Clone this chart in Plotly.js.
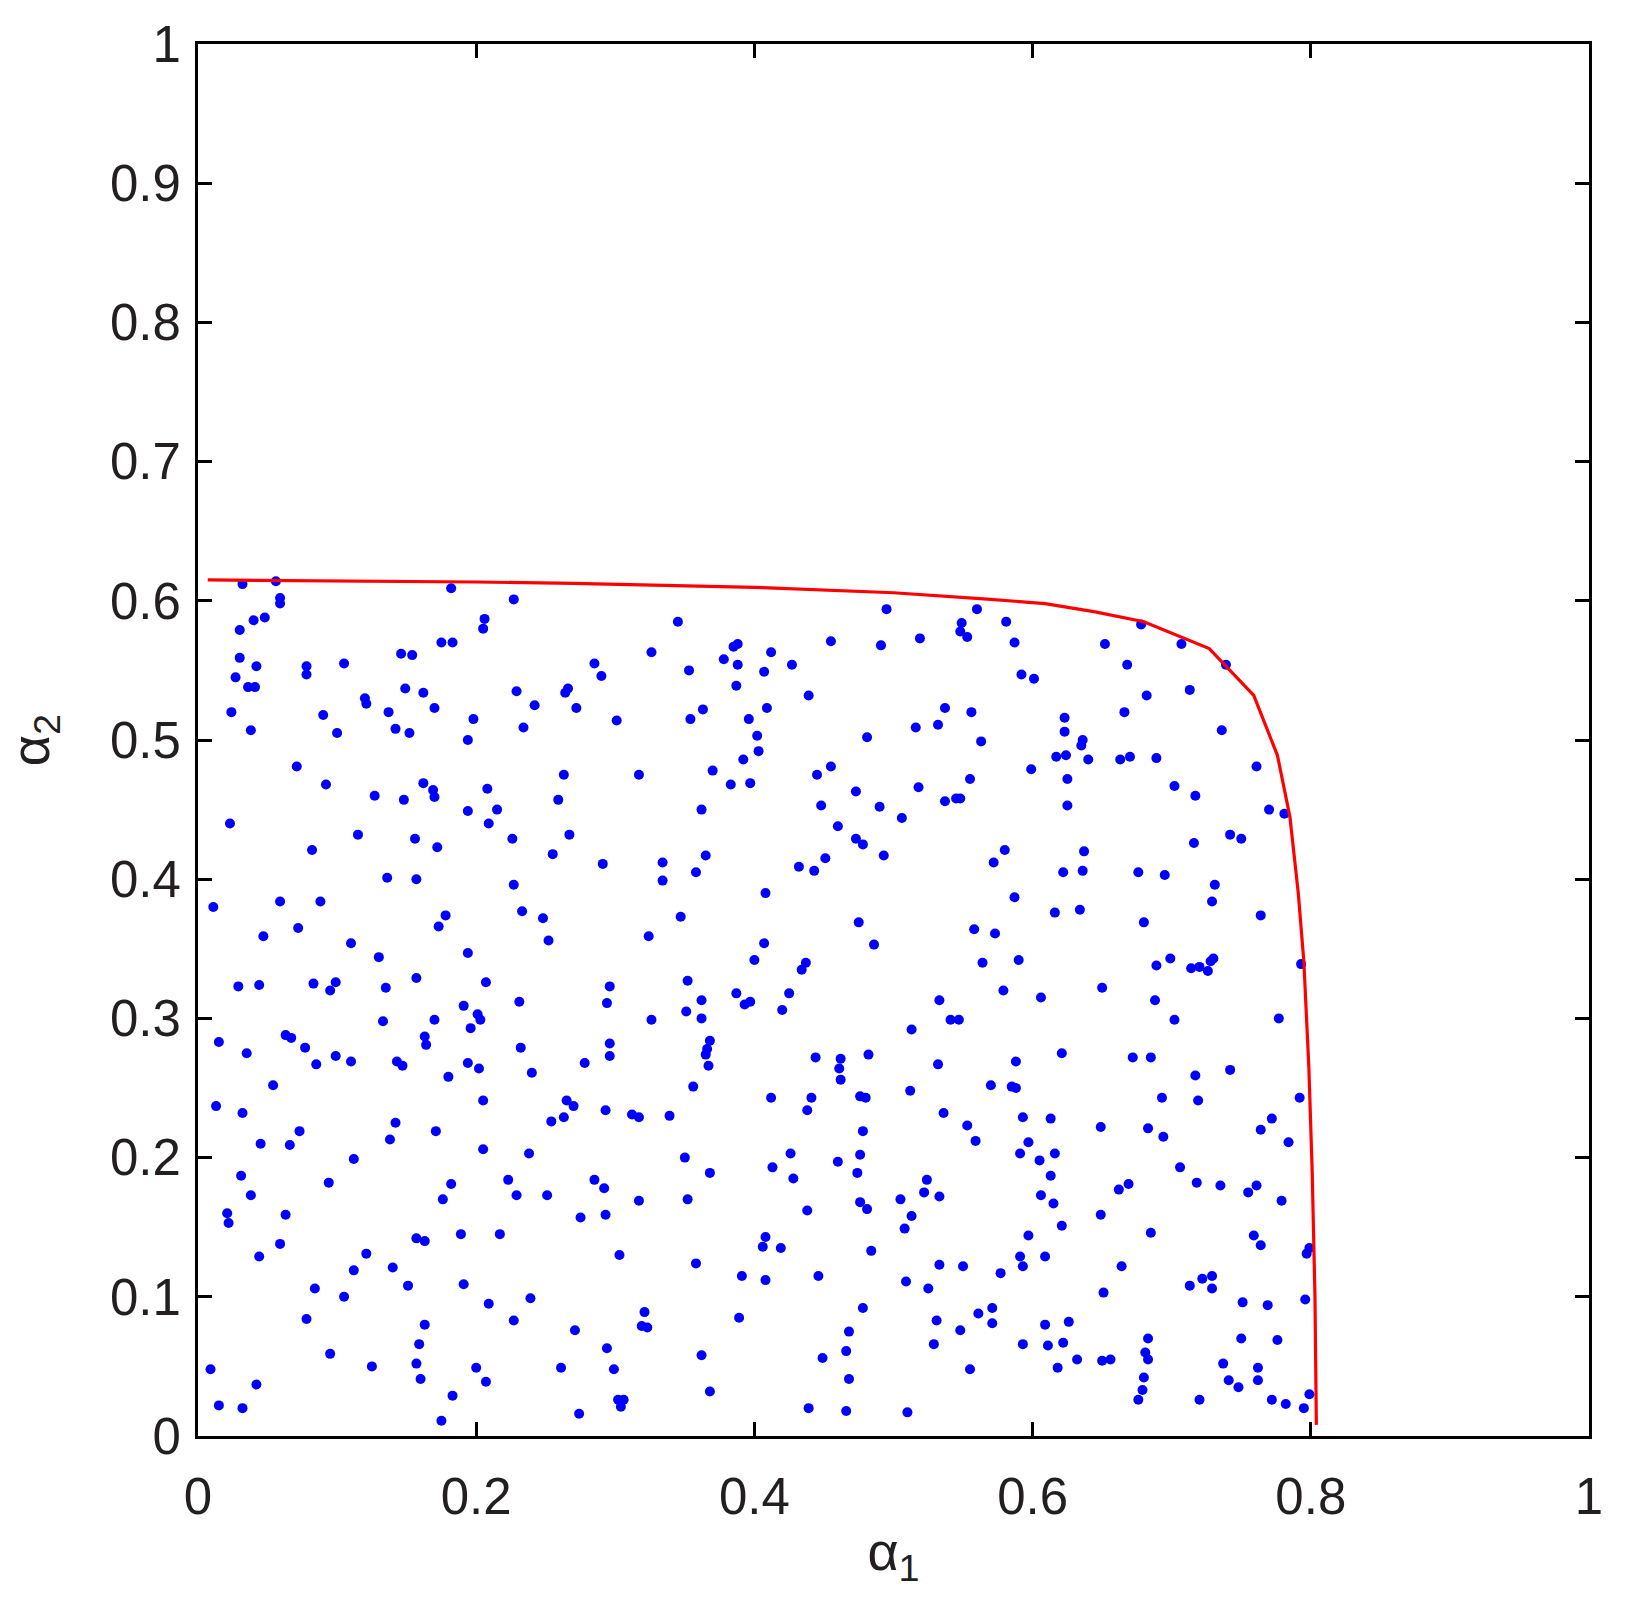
<!DOCTYPE html>
<html>
<head>
<meta charset="utf-8">
<script src="https://cdn.plot.ly/plotly-3.0.1.min.js"></script>
<style>html,body{margin:0;padding:0;background:#fff;}#chart{width:1626px;height:1608px;}</style>
</head>
<body>
<div id="chart"></div>
<script>
// sampled points [alpha1, alpha2]
const samples = [
[0.032,0.612],[0.056,0.614],[0.059,0.602],[0.059,0.598],[0.182,0.609],[0.227,0.601],[0.048,0.588],[0.040,0.586],[0.030,0.579],[0.206,0.587],[0.205,0.580],[0.175,0.570],[0.183,0.570],[0.030,0.559],[0.042,0.553],[0.078,0.553],[0.078,0.547],[0.105,0.555],[0.146,0.562],[0.154,0.561],[0.027,0.545],[0.036,0.538],[0.041,0.538],[0.149,0.537],[0.162,0.534],[0.229,0.535],[0.266,0.537],[0.264,0.534],[0.120,0.530],[0.121,0.526],[0.170,0.523],[0.242,0.525],[0.024,0.520],[0.090,0.518],[0.137,0.520],[0.198,0.515],[0.038,0.507],[0.100,0.505],[0.142,0.508],[0.152,0.505],[0.234,0.509],[0.194,0.500],[0.071,0.481],[0.263,0.475],[0.092,0.468],[0.162,0.469],[0.169,0.464],[0.170,0.459],[0.208,0.465],[0.127,0.460],[0.148,0.457],[0.259,0.457],[0.194,0.449],[0.215,0.450],[0.023,0.440],[0.209,0.440],[0.115,0.432],[0.156,0.429],[0.226,0.429],[0.267,0.432],[0.172,0.423],[0.082,0.421],[0.255,0.418],[0.136,0.401],[0.157,0.400],[0.227,0.396],
[0.345,0.585],[0.495,0.594],[0.326,0.563],[0.285,0.555],[0.290,0.546],[0.353,0.550],[0.378,0.558],[0.385,0.567],[0.388,0.569],[0.388,0.554],[0.387,0.539],[0.412,0.563],[0.407,0.549],[0.427,0.554],[0.455,0.571],[0.491,0.568],[0.519,0.573],[0.439,0.532],[0.272,0.523],[0.301,0.514],[0.354,0.515],[0.363,0.522],[0.409,0.523],[0.396,0.515],[0.402,0.503],[0.403,0.492],[0.392,0.486],[0.481,0.502],[0.516,0.509],[0.532,0.511],[0.537,0.523],[0.317,0.475],[0.370,0.478],[0.383,0.468],[0.397,0.469],[0.445,0.475],[0.455,0.481],[0.473,0.463],[0.518,0.466],[0.537,0.456],[0.362,0.450],[0.448,0.453],[0.490,0.452],[0.506,0.444],[0.460,0.438],[0.473,0.429],[0.478,0.425],[0.291,0.411],[0.334,0.412],[0.365,0.417],[0.358,0.405],[0.334,0.399],[0.432,0.409],[0.443,0.406],[0.451,0.415],[0.493,0.417],[0.408,0.390],
[0.560,0.594],[0.549,0.584],[0.548,0.578],[0.553,0.574],[0.581,0.585],[0.587,0.570],[0.678,0.583],[0.652,0.569],[0.707,0.569],[0.668,0.554],[0.739,0.554],[0.592,0.547],[0.601,0.544],[0.682,0.532],[0.713,0.536],[0.556,0.520],[0.666,0.520],[0.623,0.516],[0.623,0.506],[0.736,0.507],[0.563,0.499],[0.636,0.500],[0.635,0.496],[0.617,0.488],[0.624,0.489],[0.640,0.486],[0.663,0.486],[0.670,0.488],[0.689,0.487],[0.599,0.479],[0.761,0.481],[0.555,0.472],[0.625,0.472],[0.702,0.467],[0.717,0.460],[0.545,0.458],[0.548,0.458],[0.625,0.453],[0.770,0.450],[0.781,0.447],[0.742,0.432],[0.750,0.429],[0.716,0.426],[0.580,0.421],[0.637,0.420],[0.572,0.412],[0.622,0.405],[0.636,0.406],[0.676,0.405],[0.695,0.403],[0.731,0.396],
[0.011,0.380],[0.059,0.384],[0.088,0.384],[0.178,0.374],[0.173,0.366],[0.233,0.377],[0.248,0.372],[0.252,0.356],[0.047,0.359],[0.072,0.365],[0.110,0.354],[0.130,0.344],[0.194,0.347],[0.157,0.329],[0.207,0.326],[0.029,0.323],[0.044,0.324],[0.083,0.325],[0.099,0.326],[0.095,0.320],[0.135,0.322],[0.231,0.312],[0.191,0.309],[0.133,0.298],[0.170,0.299],[0.201,0.303],[0.203,0.299],[0.196,0.293],[0.163,0.287],[0.164,0.281],[0.015,0.283],[0.035,0.275],[0.063,0.288],[0.067,0.286],[0.077,0.279],[0.099,0.273],[0.085,0.267],[0.110,0.269],[0.143,0.269],[0.147,0.266],[0.232,0.279],[0.194,0.268],[0.202,0.264],[0.180,0.258],[0.240,0.261],[0.054,0.252],[0.013,0.237],[0.032,0.232],[0.205,0.241],[0.265,0.241],[0.254,0.226],[0.263,0.229],[0.142,0.225],[0.073,0.219],[0.171,0.219],[0.138,0.213],[0.045,0.210],[0.066,0.209],[0.205,0.206],[0.238,0.203],[0.112,0.199],
[0.347,0.373],[0.324,0.359],[0.475,0.369],[0.486,0.353],[0.407,0.354],[0.400,0.342],[0.437,0.340],[0.434,0.335],[0.296,0.323],[0.352,0.327],[0.294,0.311],[0.362,0.313],[0.351,0.305],[0.362,0.300],[0.326,0.299],[0.387,0.318],[0.393,0.310],[0.397,0.312],[0.425,0.318],[0.420,0.306],[0.533,0.313],[0.513,0.292],[0.296,0.282],[0.296,0.273],[0.278,0.268],[0.368,0.284],[0.366,0.278],[0.365,0.274],[0.367,0.266],[0.444,0.272],[0.462,0.271],[0.461,0.264],[0.462,0.256],[0.482,0.274],[0.532,0.267],[0.356,0.251],[0.270,0.237],[0.293,0.234],[0.312,0.231],[0.317,0.229],[0.339,0.230],[0.412,0.243],[0.441,0.243],[0.438,0.234],[0.476,0.244],[0.480,0.243],[0.512,0.248],[0.536,0.232],[0.478,0.219],[0.350,0.200],[0.426,0.203],[0.460,0.197],[0.476,0.202],[0.413,0.193],
[0.587,0.387],[0.729,0.384],[0.616,0.376],[0.634,0.378],[0.764,0.374],[0.680,0.369],[0.558,0.364],[0.573,0.361],[0.564,0.340],[0.590,0.342],[0.699,0.343],[0.689,0.338],[0.714,0.336],[0.720,0.337],[0.726,0.334],[0.728,0.341],[0.730,0.343],[0.793,0.339],[0.579,0.320],[0.606,0.315],[0.650,0.322],[0.688,0.313],[0.541,0.299],[0.547,0.299],[0.702,0.299],[0.777,0.300],[0.621,0.275],[0.588,0.269],[0.672,0.272],[0.685,0.272],[0.742,0.263],[0.570,0.252],[0.585,0.251],[0.588,0.250],[0.717,0.259],[0.693,0.243],[0.719,0.241],[0.792,0.243],[0.593,0.229],[0.613,0.228],[0.553,0.223],[0.649,0.222],[0.683,0.221],[0.772,0.228],[0.764,0.220],[0.559,0.212],[0.597,0.211],[0.694,0.215],[0.784,0.211],[0.591,0.203],[0.616,0.203],[0.605,0.198],[0.706,0.193],
[0.031,0.187],[0.094,0.182],[0.038,0.173],[0.021,0.160],[0.022,0.153],[0.063,0.159],[0.059,0.138],[0.044,0.129],[0.182,0.181],[0.176,0.170],[0.223,0.184],[0.229,0.173],[0.251,0.173],[0.157,0.142],[0.163,0.140],[0.189,0.145],[0.217,0.145],[0.121,0.131],[0.112,0.119],[0.140,0.121],[0.151,0.108],[0.191,0.109],[0.084,0.106],[0.105,0.100],[0.209,0.095],[0.239,0.099],[0.078,0.084],[0.227,0.083],[0.163,0.080],[0.159,0.066],[0.095,0.059],[0.009,0.048],[0.125,0.050],[0.157,0.052],[0.160,0.041],[0.200,0.049],[0.207,0.039],[0.261,0.049],[0.042,0.037],[0.015,0.022],[0.032,0.020],[0.183,0.029],[0.175,0.011],
[0.368,0.189],[0.428,0.185],[0.474,0.189],[0.285,0.184],[0.292,0.178],[0.317,0.169],[0.352,0.170],[0.275,0.157],[0.293,0.159],[0.438,0.162],[0.476,0.168],[0.481,0.163],[0.524,0.184],[0.522,0.175],[0.533,0.172],[0.505,0.170],[0.513,0.158],[0.508,0.149],[0.408,0.143],[0.406,0.136],[0.419,0.135],[0.484,0.133],[0.303,0.130],[0.358,0.124],[0.391,0.115],[0.408,0.112],[0.446,0.115],[0.533,0.123],[0.509,0.111],[0.525,0.106],[0.321,0.089],[0.319,0.079],[0.323,0.078],[0.389,0.085],[0.271,0.076],[0.478,0.092],[0.531,0.083],[0.468,0.075],[0.294,0.063],[0.362,0.058],[0.449,0.056],[0.466,0.061],[0.529,0.066],[0.299,0.048],[0.468,0.041],[0.368,0.032],[0.302,0.026],[0.306,0.026],[0.304,0.021],[0.274,0.016],[0.439,0.020],[0.466,0.018],[0.510,0.017],
[0.613,0.187],[0.606,0.173],[0.615,0.167],[0.662,0.177],[0.669,0.181],[0.718,0.182],[0.735,0.180],[0.755,0.175],[0.761,0.180],[0.779,0.169],[0.649,0.159],[0.621,0.151],[0.597,0.144],[0.685,0.146],[0.759,0.144],[0.764,0.137],[0.799,0.135],[0.797,0.131],[0.591,0.129],[0.609,0.129],[0.593,0.122],[0.550,0.122],[0.577,0.117],[0.664,0.122],[0.651,0.103],[0.713,0.108],[0.722,0.113],[0.729,0.115],[0.729,0.106],[0.751,0.096],[0.769,0.094],[0.796,0.098],[0.571,0.092],[0.561,0.088],[0.571,0.081],[0.548,0.076],[0.609,0.080],[0.626,0.082],[0.593,0.066],[0.611,0.065],[0.622,0.067],[0.683,0.070],[0.681,0.060],[0.683,0.055],[0.750,0.070],[0.776,0.069],[0.555,0.048],[0.618,0.049],[0.632,0.055],[0.650,0.054],[0.656,0.055],[0.737,0.052],[0.762,0.049],[0.680,0.042],[0.679,0.033],[0.676,0.026],[0.741,0.040],[0.748,0.035],[0.762,0.040],[0.720,0.026],[0.772,0.026],[0.782,0.023],[0.795,0.020],[0.799,0.030]
];

// boundary curve
const frontA1 = [0.007, 0.1, 0.2, 0.27, 0.4, 0.5, 0.537, 0.57, 0.609, 0.645, 0.680, 0.727, 0.759, 0.776, 0.785, 0.791, 0.795, 0.7986, 0.801, 0.803, 0.804];
const frontA2 = [0.615, 0.6145, 0.6135, 0.6125, 0.6097, 0.6058, 0.6035, 0.601, 0.598, 0.592, 0.585, 0.5657, 0.532, 0.489, 0.4447, 0.39, 0.341, 0.265, 0.19, 0.1, 0.008];

const xTickVals = [0, 0.2, 0.4, 0.6, 0.8, 1];
const xTickText = ["0", "0.2", "0.4", "0.6", "0.8", "1"];
const yTickVals = [0, 0.1, 0.2, 0.3, 0.4, 0.5, 0.6, 0.7, 0.8, 0.9, 1];
const yTickText = ["0", "0.1", "0.2", "0.3", "0.4", "0.5", "0.6", "0.7", "0.8", "0.9", "1"];

const xLabel = "α<sub>1</sub>";
const yLabel = "α<sub>2</sub>";

const FONT = "'Liberation Sans', Arial, Helvetica, sans-serif";
const TXT = "#231f20";

const traces = [
  {
    type: "scatter", mode: "markers",
    x: samples.map(p => p[0]), y: samples.map(p => p[1]),
    marker: {color: "#0000ff", size: 10, line: {width: 0}},
    hoverinfo: "skip", showlegend: false
  },
  {
    type: "scatter", mode: "lines",
    x: frontA1, y: frontA2,
    line: {color: "#ff0000", width: 3.2},
    hoverinfo: "skip", showlegend: false
  }
];

const axisCommon = {
  range: [0, 1],
  showgrid: false, zeroline: false,
  showline: true, linecolor: "#000", linewidth: 3,
  mirror: "ticks",
  ticks: "inside", ticklen: 14, tickwidth: 3, tickcolor: "#000",
  tickfont: {family: FONT, size: 51, color: TXT},
  fixedrange: true
};

const layout = {
  width: 1626, height: 1608,
  margin: {l: 198, r: 37, t: 44, b: 172, pad: 0},
  paper_bgcolor: "#fff", plot_bgcolor: "#fff",
  showlegend: false,
  xaxis: Object.assign({}, axisCommon, {
    tickmode: "array", tickvals: xTickVals, ticktext: xTickText,
    ticklabelstandoff: 14,
    title: {text: xLabel, font: {family: FONT, size: 54, color: TXT}, standoff: 8}
  }),
  yaxis: Object.assign({}, axisCommon, {
    tickmode: "array", tickvals: yTickVals, ticktext: yTickText,
    ticklabelstandoff: 4,
    title: {text: yLabel, font: {family: FONT, size: 54, color: TXT}, standoff: 44}
  })
};

Plotly.newPlot("chart", traces, layout, {staticPlot: true, displayModeBar: false});
</script>
</body>
</html>
